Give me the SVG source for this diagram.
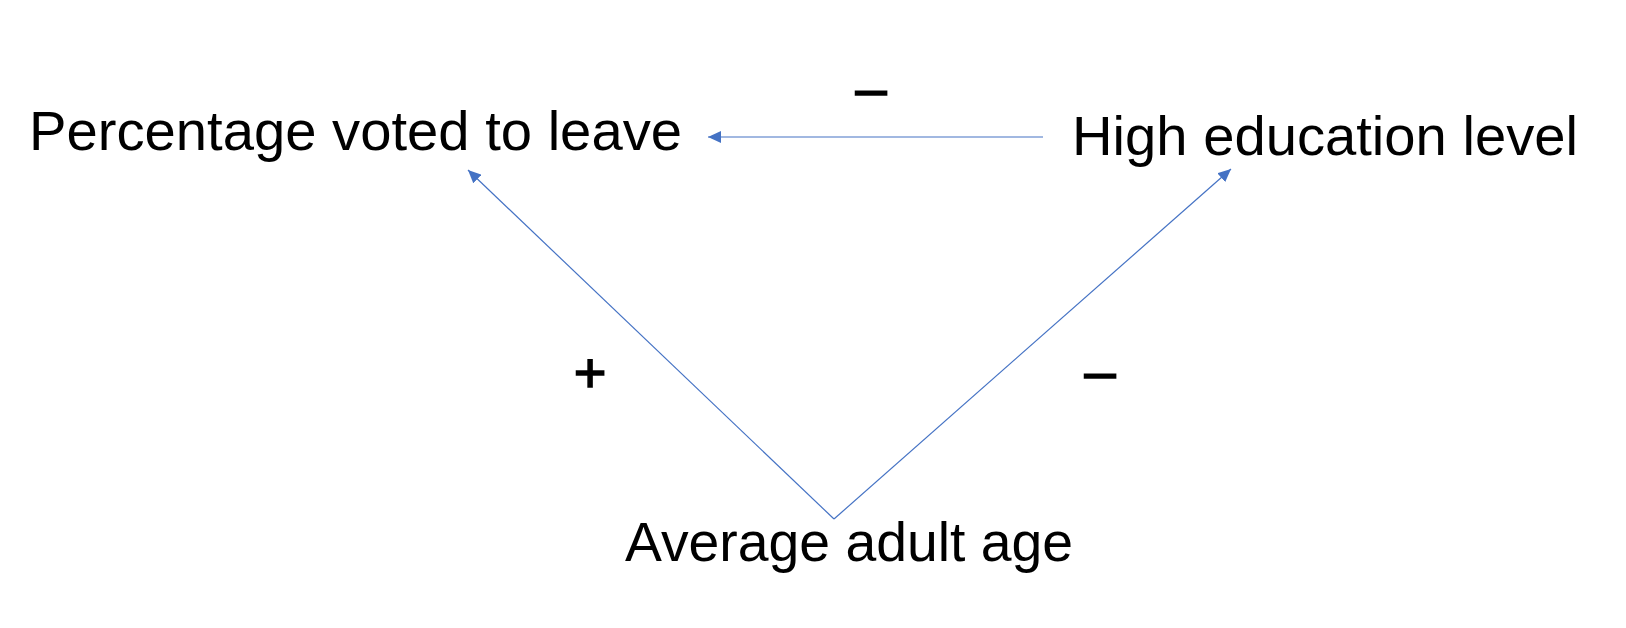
<svg xmlns="http://www.w3.org/2000/svg" width="1626" height="628" viewBox="0 0 1626 628">
  <style>
    .lbl { font-family: "Liberation Sans", Arial, sans-serif; font-size: 55px; fill: #000; }
    .sign { font-family: "Liberation Sans", Arial, sans-serif; font-size: 56px; fill: #000; stroke: #000; stroke-width: 1.5; text-anchor: middle; }
    .edge { stroke: #4472C4; stroke-width: 1.2; fill: none; marker-end: url(#arrow); }
  </style>
  <defs>
    <marker id="arrow" markerUnits="userSpaceOnUse" markerWidth="14" markerHeight="12" refX="13" refY="6" orient="auto">
      <path d="M0,0 L13,6 L0,12 z" fill="#4472C4"/>
    </marker>
  </defs>
  <rect width="1626" height="628" fill="#fff"/>
  <g id="connectors">
    <line class="edge" x1="1043" y1="137" x2="708" y2="137"/>
    <line class="edge" x1="834" y1="519" x2="468" y2="170"/>
    <line class="edge" x1="834" y1="519" x2="1231" y2="169"/>
    <text class="sign" x="871" y="107">–</text>
    <text class="sign" x="590" y="392">+</text>
    <text class="sign" x="1100" y="390">–</text>
  </g>
  <g id="node-leave">
    <text class="lbl" x="29" y="150" textLength="653" lengthAdjust="spacingAndGlyphs">Percentage voted to leave</text>
  </g>
  <g id="node-education">
    <text class="lbl" x="1072" y="155" textLength="506" lengthAdjust="spacingAndGlyphs">High education level</text>
  </g>
  <g id="node-age">
    <text class="lbl" x="625" y="561" textLength="448" lengthAdjust="spacingAndGlyphs">Average adult age</text>
  </g>
</svg>
